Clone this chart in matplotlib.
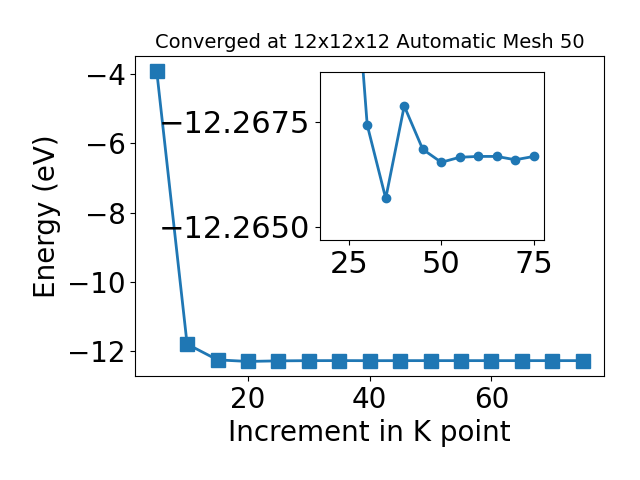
import matplotlib
matplotlib.use("Agg")
import matplotlib.pyplot as plt

kpoints = [5, 10, 15, 20, 25, 30, 35, 40, 45, 50, 55, 60, 65, 70, 75]
energy = [-3.905, -11.79, -12.245, -12.29, -12.2732, -12.26743, -12.26568,
          -12.26788, -12.26685, -12.26654, -12.26666, -12.26668, -12.26668,
          -12.26660, -12.26668]

title = "Converged at 12x12x12 Automatic Mesh 50"
xlabel = "Increment in K point"
ylabel = "Energy (eV)"

fig = plt.figure(figsize=(6.4, 4.8), dpi=100)
ax = fig.add_axes([0.2115, 0.2167, 0.7323, 0.6667])
ax.plot(kpoints, energy, marker="s", markersize=10, linewidth=2, color="#1f77b4")
ax.set_title(title, fontsize=14)
ax.set_xlabel(xlabel, fontsize=20)
ax.set_ylabel(ylabel, fontsize=20)
ax.tick_params(labelsize=20)

ins = fig.add_axes([0.5, 0.5, 0.35, 0.35])
ins.plot(kpoints[3:], energy[3:], marker="o", markersize=6, linewidth=2, color="#1f77b4")
ins.set_ylim(-12.26469, -12.26869)
ins.set_yticks([-12.2675, -12.2650])
ins.set_xticks([25, 50, 75])
ins.ticklabel_format(useOffset=False)
ins.tick_params(labelsize=22)

fig.savefig("out.png", dpi=100)
